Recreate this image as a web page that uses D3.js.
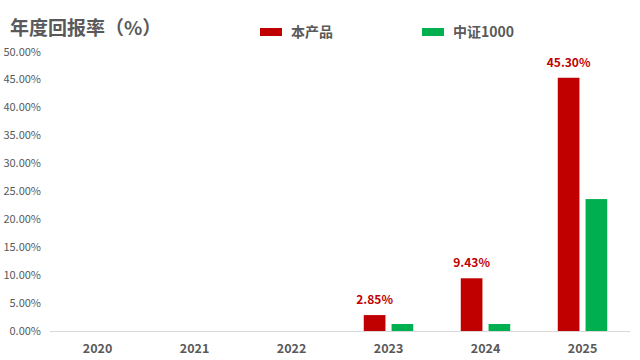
<!DOCTYPE html>
<html>
<head>
<meta charset="utf-8">
<script src="https://cdn.jsdelivr.net/npm/d3@7"></script>
<style>
  body { margin: 0; background: #fff; }
  svg text { font-family: "Noto Sans CJK SC", "Open Sans", sans-serif; }
</style>
</head>
<body>
<div id="chart-area"></div>
<script>
// data
const years = ["2020", "2021", "2022", "2023", "2024", "2025"]
const seriesNames = ["本产品", "中证1000"]
const productValues = [null, null, null, 2.85, 9.43, 45.30]
const indexValues = [null, null, null, 1.25, 1.25, 23.6]
const yTicks = [0, 5, 10, 15, 20, 25, 30, 35, 40, 45, 50]
const colors = ["#C00000", "#00B050"]

const WIDTH = 640, HEIGHT = 360
const MARGIN = { LEFT: 49, RIGHT: 9, TOP: 51.5, BOTTOM: 29 }

const svg = d3.select("#chart-area").append("svg")
  .attr("width", WIDTH)
  .attr("height", HEIGHT)

// title
svg.append("text")
  .attr("x", 10)
  .attr("y", 35)
  .attr("font-size", "19px")
  .attr("font-weight", "bold")
  .attr("fill", "#595959")
  .text("年度回报率（%）")

const x = d3.scaleBand()
  .domain(years)
  .range([MARGIN.LEFT, WIDTH - MARGIN.RIGHT])
  .paddingInner(0.49)
  .paddingOuter(0.245)

const x1 = d3.scaleBand()
  .domain(seriesNames)
  .range([0, x.bandwidth()])
  .paddingInner(0.22)

const y = d3.scaleLinear()
  .domain([0, 50])
  .range([HEIGHT - MARGIN.BOTTOM, MARGIN.TOP])

// y tick labels (no axis line)
svg.append("g").selectAll("text")
  .data(yTicks)
  .enter().append("text")
  .attr("x", 41)
  .attr("y", d => y(d) + 4)
  .attr("text-anchor", "end")
  .attr("font-size", "11px")
  .attr("fill", "#595959")
  .text(d => d.toFixed(2) + "%")

// x axis
const xAxisGroup = svg.append("g")
  .attr("transform", `translate(0, ${y(0)})`)
  .call(d3.axisBottom(x).tickSize(0).tickPadding(13))
xAxisGroup.select(".domain")
  .attr("stroke", "#D9D9D9")
  .attr("d", `M50,0.5H630`)
xAxisGroup.selectAll("text")
  .attr("font-size", "12.5px")
  .attr("font-weight", "bold")
  .attr("fill", "#595959")
  .attr("font-family", "'Noto Sans CJK SC', sans-serif")

// bars
const rows = years.map((yr, i) => ({ year: yr, values: [productValues[i], indexValues[i]] }))

const groups = svg.selectAll(".year")
  .data(rows)
  .enter().append("g")
  .attr("class", "year")
  .attr("transform", d => `translate(${x(d.year)}, 0)`)

groups.selectAll("rect")
  .data(d => d.values.map((v, j) => ({ name: seriesNames[j], value: v, j: j })).filter(e => e.value !== null))
  .enter().append("rect")
  .attr("x", d => x1(d.name))
  .attr("y", d => y(d.value))
  .attr("width", x1.bandwidth())
  .attr("height", d => y(0) - y(d.value))
  .attr("fill", d => colors[d.j])

// labels on product bars
groups.filter(d => d.values[0] !== null)
  .append("text")
  .attr("x", x1(seriesNames[0]) + x1.bandwidth() / 2)
  .attr("y", d => y(d.values[0]) - 11)
  .attr("text-anchor", "middle")
  .attr("font-size", "12px")
  .attr("font-weight", "bold")
  .attr("fill", "#C00000")
  .text(d => d.values[0].toFixed(2) + "%")

// legend
const legendX = [260, 422]
const legend = svg.selectAll(".legend")
  .data(seriesNames)
  .enter().append("g")
  .attr("class", "legend")
  .attr("transform", (d, i) => `translate(${legendX[i]}, 28)`)
legend.append("rect")
  .attr("width", 22)
  .attr("height", 8)
  .attr("fill", (d, i) => colors[i])
legend.append("text")
  .attr("x", 31)
  .attr("y", 9)
  .attr("font-size", "14px")
  .attr("font-weight", "bold")
  .attr("fill", "#595959")
  .text(d => d)
</script>
</body>
</html>
